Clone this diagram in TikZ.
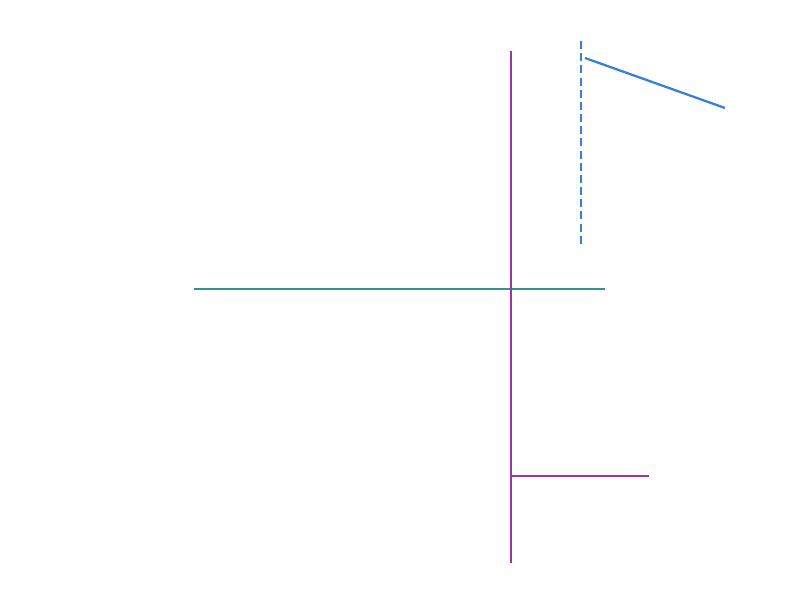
\documentclass[tikz,border=0pt]{standalone}
\definecolor{lnpurple}{HTML}{9A35A8}
\definecolor{lnteal}{HTML}{2E9494}
\definecolor{lnblue}{HTML}{3580D8}
\begin{document}
\begin{tikzpicture}[x=0.75pt,y=-0.75pt,
  ln/.style={line width=1.7pt},
  dashln/.style={ln,dash pattern=on 6pt off 3.125pt}]
\useasboundingbox[fill=white] (0,0) rectangle (800,600);
\coordinate (pt) at (511,51);
\coordinate (pb) at (511,563);
\coordinate (tl) at (194,289);
\coordinate (tr) at (605,289);
\coordinate (hl) at (511,476);
\coordinate (hr) at (649,476);
\coordinate (dt) at (581,41);
\coordinate (db) at (581,244);
\coordinate (bs) at (585,58);
\coordinate (be) at (725,108);
\draw[ln,lnteal] (tl) -- (tr);
\draw[ln,lnpurple] (pt) -- (pb);
\draw[ln,lnpurple] (hl) -- (hr);
\draw[dashln,lnblue] (dt) -- (db);
\draw[ln,lnblue] (bs) -- (be);
\end{tikzpicture}
\end{document}
